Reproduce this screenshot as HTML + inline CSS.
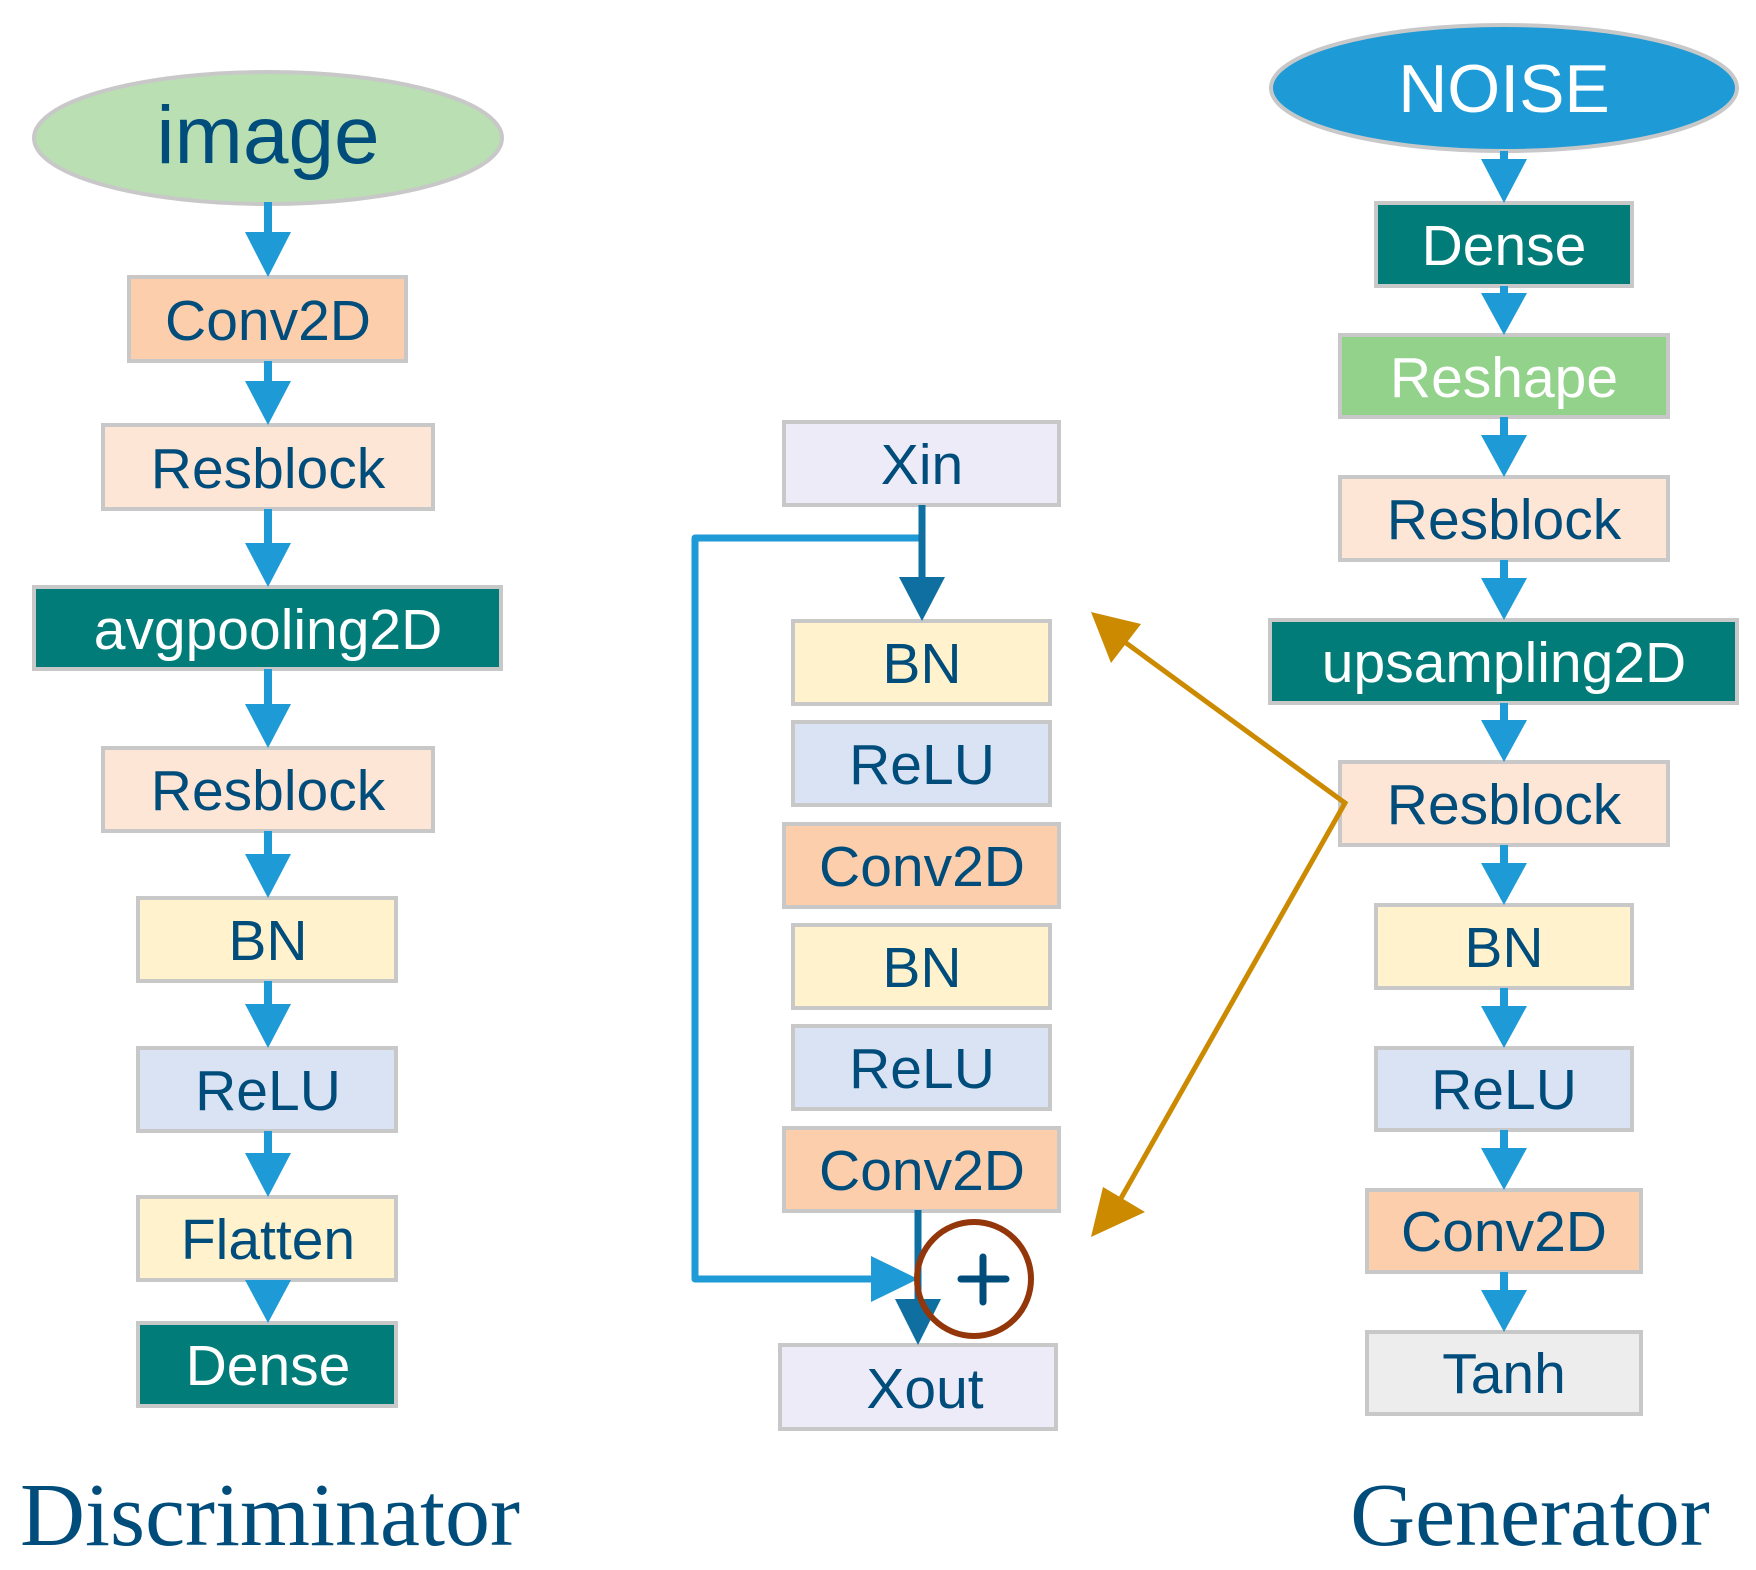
<!DOCTYPE html>
<html><head><meta charset="utf-8"><style>html,body{margin:0;padding:0;background:#fff}svg{display:block}</style></head>
<body>
<svg width="1756" height="1570" viewBox="0 0 1756 1570" xmlns="http://www.w3.org/2000/svg" font-family="'Liberation Sans', sans-serif">
<g stroke="#C8C8C8" stroke-width="4">
<ellipse cx="268" cy="138" rx="234" ry="66" fill="#B9DFB2"/>
<rect x="129" y="277" width="277" height="84" fill="#FCCEAC"/>
<rect x="103" y="425" width="330" height="84" fill="#FDE6D6"/>
<rect x="34" y="587" width="467" height="82" fill="#027C78"/>
<rect x="103" y="748" width="330" height="83" fill="#FDE6D6"/>
<rect x="138" y="898" width="258" height="83" fill="#FFF2CC"/>
<rect x="138" y="1048" width="258" height="83" fill="#DAE3F3"/>
<rect x="138" y="1197" width="258" height="83" fill="#FFF2CC"/>
<rect x="138" y="1323" width="258" height="83" fill="#027C78"/>
<rect x="784" y="422" width="275" height="83" fill="#EEEBF8"/>
<rect x="793" y="621" width="257" height="83" fill="#FFF2CC"/>
<rect x="793" y="722" width="257" height="83" fill="#DAE3F3"/>
<rect x="784" y="824" width="275" height="83" fill="#FCCEAC"/>
<rect x="793" y="925" width="257" height="83" fill="#FFF2CC"/>
<rect x="793" y="1026" width="257" height="83" fill="#DAE3F3"/>
<rect x="784" y="1128" width="275" height="83" fill="#FCCEAC"/>
<rect x="780" y="1345" width="276" height="84" fill="#EEEBF8"/>
<g transform="translate(-7,0)">
<ellipse cx="1511" cy="88" rx="233" ry="63" fill="#1E9AD6"/>
<rect x="1383" y="203" width="256" height="83" fill="#027C78"/>
<rect x="1347" y="335" width="328" height="82" fill="#92D28A"/>
<rect x="1347" y="477" width="328" height="83" fill="#FDE6D6"/>
<rect x="1277" y="620" width="467" height="83" fill="#027C78"/>
<rect x="1347" y="762" width="328" height="83" fill="#FDE6D6"/>
<rect x="1383" y="905" width="256" height="83" fill="#FFF2CC"/>
<rect x="1383" y="1048" width="256" height="82" fill="#DAE3F3"/>
<rect x="1374" y="1190" width="274" height="82" fill="#FCCEAC"/>
<rect x="1374" y="1332" width="274" height="82" fill="#EDEDED"/>
</g>
</g>

<g fill="#1E9AD6" stroke="none">
<rect x="264" y="202" width="8" height="32"/><polygon points="245,232 291,232 268,277"/>
<rect x="264" y="361" width="8" height="22"/><polygon points="245,381 291,381 268,425"/>
<rect x="264" y="509" width="8" height="36"/><polygon points="245,543 291,543 268,587"/>
<rect x="264" y="669" width="8" height="37"/><polygon points="245,704 291,704 268,748"/>
<rect x="264" y="831" width="8" height="25"/><polygon points="245,854 291,854 268,898"/>
<rect x="264" y="981" width="8" height="25"/><polygon points="245,1004 291,1004 268,1048"/>
<rect x="264" y="1131" width="8" height="24"/><polygon points="245,1153 291,1153 268,1197"/>
<polygon points="245,1280 291,1280 268,1323"/>
<g transform="translate(-7,0)">
<rect x="1507" y="151" width="8" height="10"/><polygon points="1488,159 1534,159 1511,203"/>
<rect x="1507" y="286" width="8" height="10"/><polygon points="1488,293 1534,293 1511,335"/>
<rect x="1507" y="417" width="8" height="20"/><polygon points="1488,435 1534,435 1511,477"/>
<rect x="1507" y="560" width="8" height="20"/><polygon points="1488,578 1534,578 1511,620"/>
<rect x="1507" y="703" width="8" height="20"/><polygon points="1488,720 1534,720 1511,762"/>
<rect x="1507" y="845" width="8" height="20"/><polygon points="1488,863 1534,863 1511,905"/>
<rect x="1507" y="988" width="8" height="20"/><polygon points="1488,1006 1534,1006 1511,1048"/>
<rect x="1507" y="1130" width="8" height="20"/><polygon points="1488,1148 1534,1148 1511,1190"/>
<rect x="1507" y="1272" width="8" height="20"/><polygon points="1488,1290 1534,1290 1511,1332"/>
</g>
</g>

<polyline points="922,538 695,538 695,1279 875,1279" fill="none" stroke="#1E9AD6" stroke-width="7" stroke-linejoin="round"/>
<polygon points="871,1256 871,1302 918,1279" fill="#1E9AD6"/>
<line x1="922" y1="505" x2="922" y2="580" stroke="#0E6FA0" stroke-width="7"/>
<polygon points="899,577 945,577 922,621" fill="#0E6FA0"/>
<line x1="918" y1="1210" x2="918" y2="1302" stroke="#0E6FA0" stroke-width="7"/>
<polygon points="895,1299 941,1299 918,1345" fill="#0E6FA0"/>
<circle cx="974" cy="1279" r="57" fill="none" stroke="#93360A" stroke-width="6"/>
<path d="M961 1279 H1006 M983 1257 V1302" stroke="#004D7C" stroke-width="7" stroke-linecap="round"/>

<g stroke="#CC8A00" stroke-width="5" fill="none">
<polyline points="1122,640 1345,803 1120,1200"/>
</g>
<polygon points="1091,612 1141,624 1111,663" fill="#CC8A00"/>
<polygon points="1091,1237 1103,1187 1145,1212" fill="#CC8A00"/>

<g fill="#004D7C" text-anchor="middle" font-size="57">
<text x="268" y="163" font-size="82">image</text>
<text x="268" y="340">Conv2D</text>
<text x="268" y="488">Resblock</text>
<text x="268" y="649" fill="#fff">avgpooling2D</text>
<text x="268" y="810">Resblock</text>
<text x="268" y="960">BN</text>
<text x="268" y="1110">ReLU</text>
<text x="268" y="1259">Flatten</text>
<text x="268" y="1385" fill="#fff">Dense</text>

<text x="922" y="484">Xin</text>
<text x="922" y="683">BN</text>
<text x="922" y="784">ReLU</text>
<text x="922" y="886">Conv2D</text>
<text x="922" y="987">BN</text>
<text x="922" y="1088">ReLU</text>
<text x="922" y="1190">Conv2D</text>
<text x="925" y="1408">Xout</text>

<g transform="translate(-7,0)">
<text x="1511" y="112" font-size="68" fill="#fff">NOISE</text>
<text x="1511" y="265" fill="#fff">Dense</text>
<text x="1511" y="397" fill="#fff">Reshape</text>
<text x="1511" y="539">Resblock</text>
<text x="1511" y="682" fill="#fff">upsampling2D</text>
<text x="1511" y="824">Resblock</text>
<text x="1511" y="967">BN</text>
<text x="1511" y="1109">ReLU</text>
<text x="1511" y="1251">Conv2D</text>
<text x="1511" y="1393">Tanh</text>
</g>

<text x="270" y="1545" font-size="90" font-family="'Liberation Serif', serif">Discriminator</text>
<text x="1530" y="1545" font-size="90" font-family="'Liberation Serif', serif">Generator</text>
</g>
</svg>
</body></html>
